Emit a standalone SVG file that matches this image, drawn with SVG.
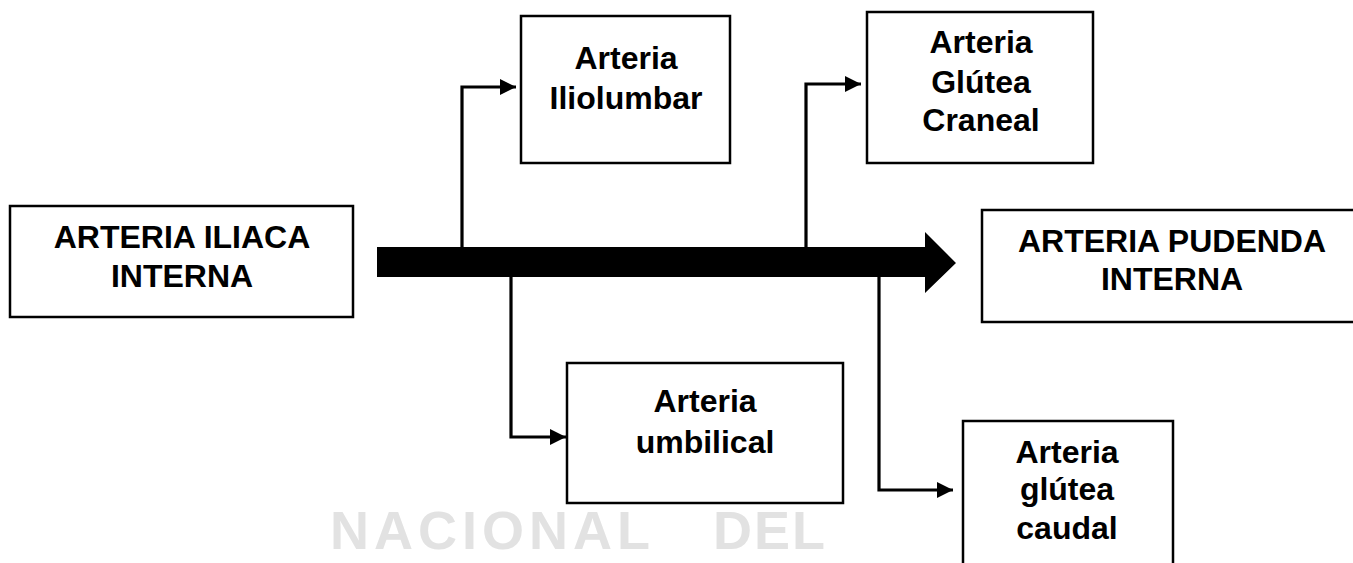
<svg xmlns="http://www.w3.org/2000/svg" width="1353" height="563" viewBox="0 0 1353 563">
<style>
.box{fill:#fff;stroke:#000;stroke-width:2.5}
.lbl{font-family:"Liberation Sans",Arial,sans-serif;font-weight:bold;font-size:32px;fill:#000;text-anchor:middle}
.con{fill:none;stroke:#000;stroke-width:3.2}
.wm{font-family:"Liberation Sans",Arial,sans-serif;font-weight:bold;font-size:54px;fill:#e2e2e2}
</style>
<defs>
<marker id="ah" markerUnits="userSpaceOnUse" markerWidth="18" markerHeight="18" refX="16" refY="8" orient="auto">
<path d="M0,0 L16,8 L0,16 z" fill="#000"/>
</marker>
</defs>
<rect width="1353" height="563" fill="#fff"/>
<g id="watermark">
<text class="wm" x="330" y="549" letter-spacing="5">NACIONAL</text>
<text class="wm" x="713" y="549" letter-spacing="2">DEL</text>
</g>
<g id="connectors">
<path class="con" d="M462,250 V87 H516" marker-end="url(#ah)"/>
<path class="con" d="M806,250 V84 H861" marker-end="url(#ah)"/>
<path class="con" d="M511,274 V437 H566" marker-end="url(#ah)"/>
<path class="con" d="M879,274 V490 H953" marker-end="url(#ah)"/>
<polygon id="main-arrow" points="377,247 925,247 925,232 956,263 925,293 925,277 377,277" fill="#000"/>
</g>
<g id="iliaca-interna">
<rect class="box" x="10" y="206" width="343" height="111"/>
<text class="lbl" x="182" y="248">ARTERIA ILIACA</text>
<text class="lbl" x="182" y="287">INTERNA</text>
</g>
<g id="pudenda-interna">
<rect class="box" x="982" y="210" width="390" height="112"/>
<text class="lbl" x="1172" y="252">ARTERIA PUDENDA</text>
<text class="lbl" x="1172" y="290">INTERNA</text>
</g>
<g id="iliolumbar">
<rect class="box" x="521" y="16" width="209" height="147"/>
<text class="lbl" x="626" y="69">Arteria</text>
<text class="lbl" x="626" y="109">Iliolumbar</text>
</g>
<g id="glutea-craneal">
<rect class="box" x="867" y="12" width="226" height="151"/>
<text class="lbl" x="981" y="53">Arteria</text>
<text class="lbl" x="981" y="93">Glútea</text>
<text class="lbl" x="981" y="131">Craneal</text>
</g>
<g id="umbilical">
<rect class="box" x="567" y="363" width="276" height="140"/>
<text class="lbl" x="705" y="412">Arteria</text>
<text class="lbl" x="705" y="453">umbilical</text>
</g>
<g id="glutea-caudal">
<rect class="box" x="963" y="421" width="210" height="170"/>
<text class="lbl" x="1067" y="463">Arteria</text>
<text class="lbl" x="1067" y="500">glútea</text>
<text class="lbl" x="1067" y="539">caudal</text>
</g>
</svg>
